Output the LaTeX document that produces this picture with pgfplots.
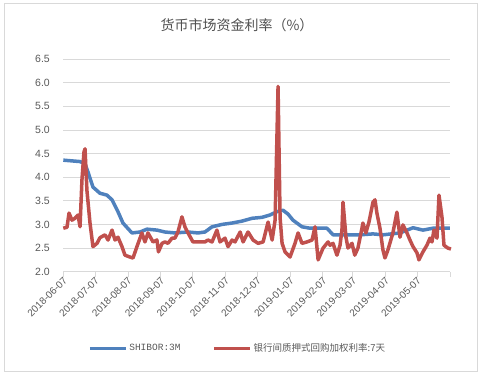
\documentclass[border=0pt]{standalone}
\usepackage{pgfplots}
\pgfplotsset{compat=1.18}
\usepackage{fontspec}
\setmainfont{Liberation Sans}
\newfontfamily\cjk{Noto Sans CJK SC}
\newfontfamily\mono{Liberation Mono}
\definecolor{sblue}{RGB}{79,129,189}
\definecolor{sred}{RGB}{192,80,77}
\definecolor{gridc}{RGB}{217,217,217}
\definecolor{txt}{RGB}{89,89,89}
\begin{document}
\begin{tikzpicture}[x=1pt,y=1pt]
\useasboundingbox (0,0) rectangle (484,375);
\draw[gridc, line width=0.8pt] (4,4) rectangle (477,372);
\node[text=txt!90!black, font=\cjk\fontsize{14}{16}\selectfont] at (237,350) {货币市场资金利率（\%）};
\begin{axis}[
  at={(63.3pt,103.3pt)}, anchor=south west,
  scale only axis, width=386.7pt, height=212.7pt,
  xmin=0, xmax=365, ymin=2, ymax=6.5,
  ytick={2,2.5,...,6.5},
  xtick={0,30,61,92,122,153,183,214,245,273,304,334,365},
  xticklabels={2018-06-07,2018-07-07,2018-08-07,2018-09-07,2018-10-07,2018-11-07,2018-12-07,2019-01-07,2019-02-07,2019-03-07,2019-04-07,2019-05-07,},
  axis line style={draw=none},
  axis x line*=bottom,
  x axis line style={draw=gridc, line width=0.8pt},
  axis y line*=left,
  y axis line style={draw=none},
  ytick style={draw=none},
  xtick style={draw=gridc, line width=0.8pt},
  xtick align=outside,
  major tick length=5pt,
  ymajorgrids, grid style={gridc, line width=0.8pt},
  tick label style={text=txt},
  yticklabel style={font=\fontsize{10.5}{12}\selectfont, xshift=-10pt},
  xticklabel style={font=\fontsize{10}{11}\selectfont, rotate=45, anchor=east, inner sep=1pt, xshift=1pt, yshift=-3pt},
  /pgf/number format/.cd, fixed, fixed zerofill, precision=1, assume math mode=true,
  /pgfplots/.cd,
  clip=false,
  legend style={at={(0.451,-0.359)}, anchor=center, draw=none, fill=none,
    legend columns=2, font=\cjk\fontsize{9.5}{11}\selectfont, text=txt,
    /tikz/every even column/.append style={column sep=30pt}},
  legend image code/.code={\draw[#1, line width=3pt] (0pt,0pt) -- (36pt,0pt);},
]
\addplot[sblue, line width=3.5pt, line join=round] coordinates {
(0,4.36) (15.8,4.33) (20.5,4.28) (23.3,4.11) (28.0,3.79) (34.6,3.66)
(41.2,3.62) (46.0,3.52) (51.6,3.27) (56.3,3.03) (64.8,2.82) (72.4,2.84)
(79.0,2.90) (88.4,2.88) (95.9,2.84) (105.4,2.82) (117.7,2.84) (127.1,2.82)
(133.7,2.84) (140.4,2.95) (149.8,3.00) (159.3,3.03) (168.7,3.07) (178.1,3.13)
(187.6,3.15) (195.1,3.20) (201.7,3.27) (207.4,3.30) (212.1,3.22) (216.8,3.09)
(225.3,2.95) (232.8,2.92) (248.9,2.92) (254.6,2.78) (264.0,2.78) (280.0,2.78)
(292.3,2.80) (301.7,2.78) (317.8,2.82) (330.1,2.93) (339.5,2.88) (348.9,2.92)
(364.9,2.92)
};
\addlegendentry{\mono SHIBOR:3M}
\addplot[sred, line width=3.5pt, line join=round] coordinates {
(0,2.92) (3.5,2.94) (5.4,3.24) (8.2,3.09) (11.0,3.13) (13.9,3.20) (15.8,2.95)
(17.6,3.94) (19.5,4.53) (20.5,4.60) (22.3,3.72) (25.2,3.03) (28.0,2.53)
(31.8,2.60) (34.6,2.72) (39.4,2.78) (42.2,2.67) (46.0,2.88) (48.8,2.67)
(51.6,2.73) (55.4,2.53) (58.2,2.35) (62.9,2.31) (65.8,2.29) (69.5,2.53)
(74.2,2.82) (77.1,2.63) (79.9,2.82) (84.7,2.63) (88.4,2.67) (89.8,2.42)
(93.2,2.60) (96.0,2.63) (98.8,2.60) (102.6,2.71) (105.4,2.71) (108.2,2.84)
(112.0,3.16) (114.8,2.95) (117.7,2.82) (122.4,2.63) (127.1,2.63) (133.7,2.63)
(136.5,2.67) (140.4,2.63) (145.0,2.88) (147.9,2.63) (152.6,2.71) (155.5,2.53)
(159.3,2.67) (162.1,2.63) (166.9,2.84) (169.7,2.63) (174.4,2.84) (179.1,2.67)
(183.9,2.60) (188.6,2.63) (193.3,3.05) (197.1,2.67) (199.9,3.09) (202.7,5.92)
(204.6,3.15) (206.5,2.60) (209.3,2.42) (214.0,2.31) (218.7,2.60) (221.6,2.82)
(225.3,2.60) (230.0,2.63) (234.8,2.67) (237.6,2.95) (240.5,2.25) (245.2,2.50)
(249.9,2.63) (251.8,2.56) (254.6,2.60) (258.3,2.35) (261.2,2.56) (263.0,2.88)
(264.0,3.47) (266.8,2.73) (268.7,2.50) (272.5,2.60) (275.1,2.35) (278.1,2.50)
(281.9,2.92) (282.8,3.03) (285.6,2.82) (288.5,3.05) (292.3,3.47) (294.2,3.52)
(296.0,3.24) (298.9,2.92) (301.7,2.46) (303.6,2.29) (306.4,2.46) (311.1,2.82)
(314.9,3.26) (317.8,2.73) (320.6,2.99) (324.4,2.82) (327.2,2.67) (330.1,2.53)
(333.8,2.40) (335.7,2.25) (339.5,2.42) (343.2,2.56) (346.1,2.71) (348.0,2.63)
(349.8,2.88) (352.7,2.71) (354.6,3.62) (357.4,3.16) (359.3,2.56) (363.0,2.50)
(365.9,2.48)
};
\addlegendentry{银行间质押式回购加权利率:7天}
\end{axis}
\end{tikzpicture}
\end{document}
